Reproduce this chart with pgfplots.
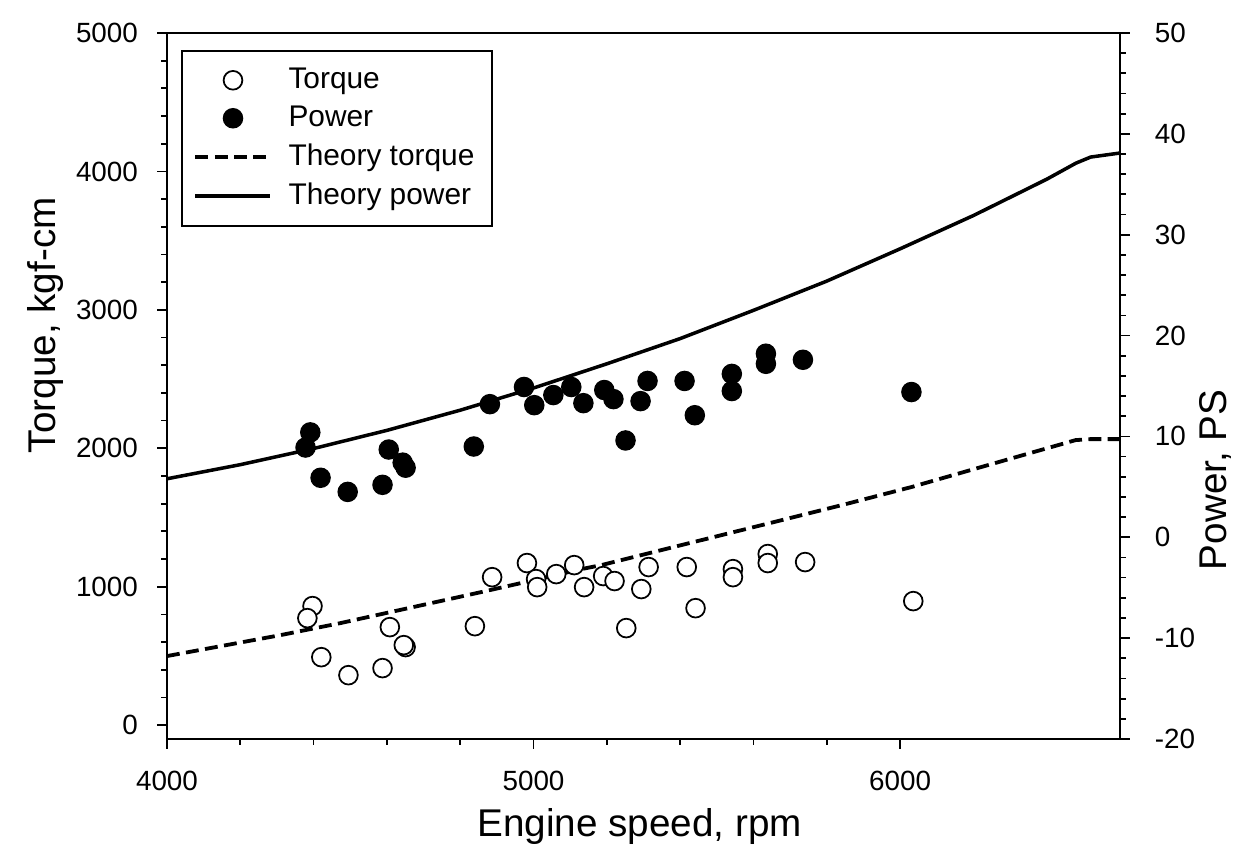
\documentclass[border=0pt]{standalone}
\usepackage{fontspec}
\setmainfont{Liberation Sans}
\usepackage{pgfplots}
\pgfplotsset{compat=1.18}
\pgfplotsset{
  base/.style={
    width=11.436cm, height=8.472cm, scale only axis,
    xmin=4000, xmax=6600, xtick={4000,5000,6000}, minor x tick num=4,
    tick align=outside, major tick length=3.4pt, minor tick length=2pt,
    tick style={black, line width=0.6pt},
    axis line style={line width=0.6pt},
    ticklabel style={font=\fontsize{9.5}{11}\selectfont},
    /pgf/number format/assume math mode=true,
    /pgf/number format/1000 sep={},
    label style={font=\fontsize{13.2}{15}\selectfont},
  },
  markleg/.style={legend image code/.code={\draw[mark repeat=2,mark phase=2,##1] plot coordinates {(0cm,0cm) (0.45cm,0cm) (0.9cm,0cm)};}},
  lineleg/.style={legend image code/.code={\draw[##1] (0cm,0cm) -- (0.9cm,0cm);}},
}
\begin{document}
\begin{tikzpicture}
\begin{axis}[base, name=ax,
  ymin=-100, ymax=5000, ytick={0,1000,...,5000}, minor y tick num=4,
  xtick pos=bottom, ytick pos=left,
  xlabel={Engine speed, rpm}, ylabel={Torque, kgf-cm},
  xlabel style={at={(axis description cs:0.496,-0.124)}, anchor=center},
  ylabel style={at={(axis description cs:-0.128,0.586)}, anchor=center, rotate=0},
  xticklabel style={yshift=-4pt},
  yticklabel style={xshift=-3pt},
  legend cell align=left,
  legend style={at={(axis description cs:0.0147,0.976)}, anchor=north west,
    draw=black, line width=0.6pt, font=\fontsize{10.2}{12}\selectfont,
    inner xsep=4pt, inner ysep=3.8pt, column sep=3.5pt, row sep=0.45pt},
]
\addplot[black, line width=1.3pt, dash pattern=on 4.4pt off 2.2pt, forget plot] coordinates {
(4000,499) (4309,650) (4473,737) (4857,961) (5002,1048) (5130,1127) (5185,1156)
(5404,1301) (5568,1409) (5842,1590) (6031,1720) (6288,1915) (6479,2059) (6518,2066) (6600,2066)};
\addplot[only marks, mark=*, mark size=3.2pt, mark options={fill=white, draw=black, line width=0.6pt}, forget plot] coordinates {
(4397,860) (4383,773) (4421,491) (4495,361) (4588,412) (4608,708) (4651,564) (4646,578)
(4840,715) (4887,1069) (4982,1171) (5007,1055) (5010,997) (5062,1091) (5111,1156)
(5138,997) (5190,1077) (5221,1041) (5253,701) (5294,983) (5314,1142) (5418,1142)
(5442,845) (5544,1127) (5544,1069) (5639,1236) (5639,1171) (5741,1178) (6036,896)};
\addlegendimage{only marks, mark=*, mark size=3.2pt, mark options={fill=white, draw=black, line width=0.6pt}, markleg}
\addlegendentry{Torque}
\addlegendimage{only marks, mark=*, mark size=3.2pt, mark options={fill=black, draw=black}, markleg}
\addlegendentry{Power}
\addlegendimage{black, line width=1.3pt, dash pattern=on 4.4pt off 2.2pt, lineleg}
\addlegendentry{Theory torque}
\addlegendimage{black, line width=1.2pt, lineleg}
\addlegendentry{Theory power}
\end{axis}
\begin{axis}[base,
  ymin=-20, ymax=50, ytick={-20,-10,...,50}, minor y tick num=4,
  axis x line=none, axis y line*=right,
  ylabel={Power, PS},
  ylabel style={at={(axis description cs:1.0997,0.367)}, anchor=center, rotate=0},
  yticklabel style={xshift=5pt},
]
\addplot[black, line width=1.2pt] coordinates {
(4000,5.8) (4200,7.2) (4400,8.8) (4600,10.6) (4800,12.6) (5000,14.8) (5200,17.2)
(5400,19.7) (5600,22.5) (5800,25.4) (6000,28.6) (6200,31.9) (6400,35.5) (6480,37.1)
(6520,37.7) (6600,38.1)};
\addplot[only marks, mark=*, mark size=3.3pt, mark options={fill=black, draw=black}] coordinates {
(4391,10.4) (4378,8.9) (4419,5.9) (4493,4.5) (4588,5.2) (4605,8.7) (4643,7.4) (4651,6.9)
(4837,9.0) (4881,13.2) (4974,14.9) (5002,13.1) (5054,14.1) (5103,14.9) (5136,13.3)
(5193,14.6) (5218,13.7) (5251,9.6) (5292,13.5) (5311,15.5) (5412,15.5) (5440,12.1)
(5541,16.2) (5541,14.5) (5634,18.2) (5634,17.2) (5735,17.6) (6031,14.4)};
\end{axis}
\pgfresetboundingbox
\path ([shift={(-2.004cm,-1.296cm)}]ax.south west) rectangle ([shift={(1.56cm,0.396cm)}]ax.north east);
\end{tikzpicture}
\end{document}
